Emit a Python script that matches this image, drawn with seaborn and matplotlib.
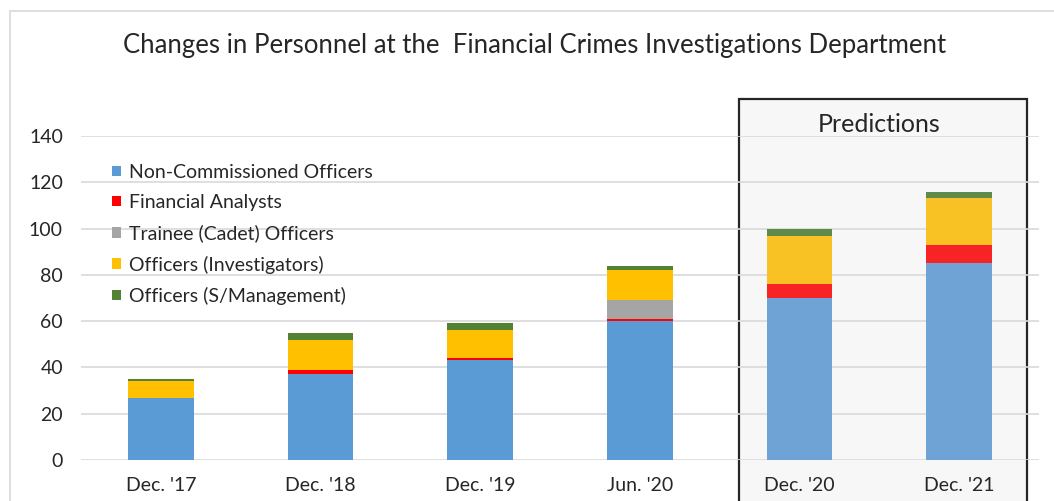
import pandas as pd
import matplotlib.pyplot as plt
import seaborn as sns
from matplotlib.patches import Rectangle, Patch
from matplotlib.lines import Line2D

periods = ["Dec. '17", "Dec. '18", "Dec. '19", "Jun. '20", "Dec. '20", "Dec. '21"]
nco = [27, 37, 43, 60, 70, 85]
analysts = [0, 2, 1, 1, 6, 8]
trainees = [0, 0, 0, 8, 0, 0]
investigators = [7, 13, 12, 13, 21, 20]
management = [1, 3, 3, 2, 3, 3]

series = ["Non-Commissioned Officers", "Financial Analysts", "Trainee (Cadet) Officers",
          "Officers (Investigators)", "Officers (S/Management)"]
colors = ["#5B9BD5", "#FF0000", "#A5A5A5", "#FFC000", "#548235"]
pred_colors = ["#6FA3D5", "#F72325", "#A5A5A5", "#F8C224", "#5E8A4A"]
n_pred = 2

df = pd.DataFrame({"period": periods, series[0]: nco, series[1]: analysts,
                   series[2]: trainees, series[3]: investigators, series[4]: management})

sns.set_style("white")
plt.rcParams["font.family"] = ["Lato", "DejaVu Sans"]

fig = plt.figure(figsize=(10.54, 5.01), dpi=100)
ax = fig.add_axes([81 / 1054, 1 - 460 / 501, 958 / 1054, 324 / 501])

# predictions panel behind the last two bars
box = Rectangle((3.62, -30), 1.805, 186, facecolor="#F7F7F7", edgecolor="#262626",
                linewidth=1.6, clip_on=False, zorder=0.5)
ax.add_patch(box)
ax.text(4.5, 145, "Predictions", ha="center", va="center", fontsize=18, color="#262626")

bottom = pd.Series([0] * len(periods), dtype=float)
for i, s in enumerate(series):
    sns.barplot(data=df, x="period", y=s, bottom=bottom.values, color=colors[i],
                width=0.41, saturation=1, ax=ax, zorder=2, linewidth=0)
    bottom = bottom + df[s]

for i, cont in enumerate(ax.containers):
    for j, p in enumerate(cont.patches):
        if j >= len(periods) - n_pred:
            p.set_facecolor(pred_colors[i])

ax.set_ylim(0, 140)
ax.set_xlim(-0.5, 5.5)
ax.set_yticks(range(0, 141, 20))
ax.yaxis.grid(True, color="#D9D9D9", linewidth=1.2, zorder=1)
ax.set_axisbelow(True)
for sp in ax.spines.values():
    sp.set_visible(False)
ax.set_xlabel("")
ax.set_ylabel("")
ax.tick_params(axis="both", length=0, labelsize=14, labelcolor="#262626")
ax.tick_params(axis="y", pad=13)
ax.tick_params(axis="x", pad=12)
ax.patch.set_alpha(0)

handles = [Patch(facecolor=c, edgecolor="none") for c in colors]
ax.legend(handles, series, loc="upper left", bbox_to_anchor=(0.014, 0.968), frameon=False,
          fontsize=14, handlelength=0.45, handleheight=0.45, handletextpad=0.45,
          labelspacing=0.68, labelcolor="#262626")

fig.text(535 / 1054, 1 - 46 / 501, "Changes in Personnel at the  Financial Crimes Investigations Department",
         ha="center", va="center", fontsize=18.5, color="#262626")

# outer chart frame (left and top edges)
fig.add_artist(Line2D([10 / 1054, 10 / 1054], [0, 1 - 11 / 501], color="#D9D9D9", linewidth=1.2))
fig.add_artist(Line2D([10 / 1054, 1], [1 - 11 / 501, 1 - 11 / 501], color="#D9D9D9", linewidth=1.2))

fig.savefig("out.png", dpi=100)
